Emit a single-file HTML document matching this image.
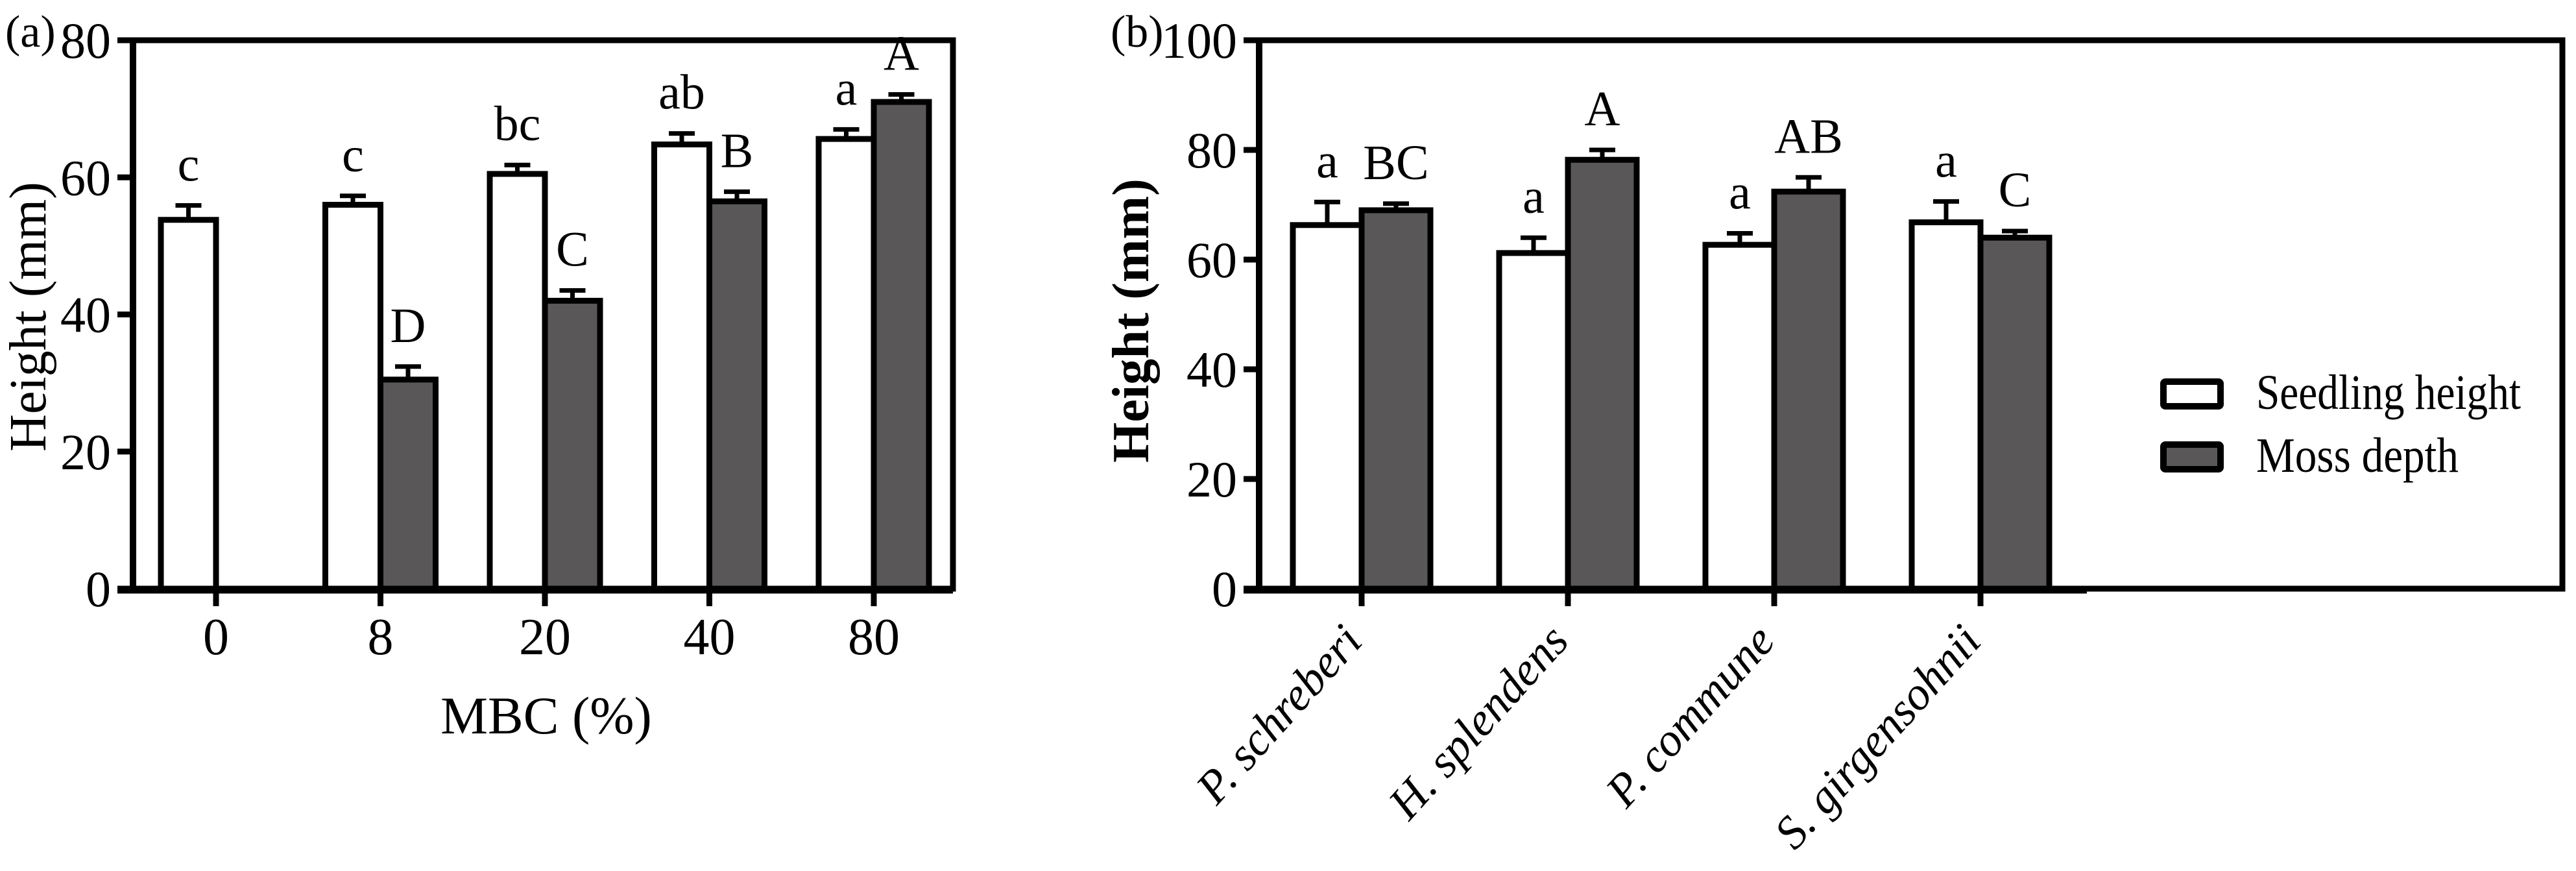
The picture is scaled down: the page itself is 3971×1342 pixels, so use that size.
<!DOCTYPE html>
<html><head><meta charset="utf-8"><style>
html,body{margin:0;padding:0;background:#fff;}
svg{display:block;font-family:"Liberation Serif",serif;}
</style></head><body>
<svg id="fig" width="3971" height="1342" viewBox="0 0 3971 1342" xmlns="http://www.w3.org/2000/svg">
<rect width="3971" height="1342" fill="#fff"/>
<g id="pa"></g>
<g id="pb"></g>
</svg>
<script>
// Panel (a) data
const catsA = ["0","8","20","40","80"];
const seedA = [53.8, 56, 60.5, 64.8, 65.6];
const seedErrA = [55.9, 57.3, 61.8, 66.4, 67.0];
const mossA = [null, 30.5, 42, 56.5, 71];
const mossErrA = [null, 32.4, 43.5, 57.9, 72.1];
const seedLblA = ["c","c","bc","ab","a"];
const mossLblA = ["","D","C","B","A"];
const ticksA = [0,20,40,60,80];
// Panel (b) data
const catsB = ["P. schreberi","H. splendens","P. commune","S. girgensohnii"];
const seedB = [66.3, 61.2, 62.7, 66.8];
const seedErrB = [70.5, 64.0, 64.8, 70.6];
const mossB = [69.0, 78.2, 72.4, 64.0];
const mossErrB = [70.2, 80.0, 75.0, 65.2];
const seedLblB = ["a","a","a","a"];
const mossLblB = ["BC","A","AB","C"];
const ticksB = [0,20,40,60,80,100];

const NS="http://www.w3.org/2000/svg";
function mk(parent,tag,attrs,text){const e=document.createElementNS(NS,tag);for(const k in attrs)e.setAttribute(k,attrs[k]);if(text!==undefined)e.textContent=text;parent.appendChild(e);return e;}
const DARK="#595758";

function drawPanel(g,o){
  const y=v=>o.y0-(v/o.ymax)*(o.y0-o.ytop);
  const x=i=>o.x0+o.step*i;
  const fr=mk(g,'path',{d:`M${o.axX} ${o.ytop} H${o.right} V${o.y0} H${o.axX}`,fill:'none',stroke:'#000','stroke-width':9});
  
  
  const ya=mk(g,'line',{x1:o.axX,x2:o.axX,y1:o.ytop,y2:o.y0,stroke:'#000','stroke-width':10});
  
  
  const xa=mk(g,'line',{x1:o.axX-24,x2:o.xend,y1:o.y0+2,y2:o.y0+2,stroke:'#000','stroke-width':11});
  
  
  o.ticks.forEach(t=>{
    const tk=mk(g,'line',{x1:o.axX-24,x2:o.axX,y1:y(t),y2:y(t),stroke:'#000','stroke-width':9});
    
    
    const tl=mk(g,'text',{x:o.axX-34,y:y(t)+27,'font-size':78,'text-anchor':'end'},String(t));
    
    
  });
  o.cats.forEach((c,i)=>{
    const cx=x(i);
    const tk=mk(g,'line',{x1:cx,x2:cx,y1:o.y0,y2:o.y0+27,stroke:'#000','stroke-width':9});
    
    
    const sv=o.seed[i];
    const sx=cx-o.bw/2;
    const e1=mk(g,'path',{d:`M${sx} ${y(sv)} V${y(o.seedErr[i])} M${sx-20} ${y(o.seedErr[i])} H${sx+20}`,stroke:'#000','stroke-width':7,fill:'none'});
    
    
    const b1=mk(g,'rect',{x:cx-o.bw,y:y(sv),width:o.bw,height:o.y0-y(sv),fill:'#fff',stroke:'#000','stroke-width':9});
    
    
    const l1=mk(g,'text',{x:sx,y:y(o.seedErr[i])-38,'font-size':76,'text-anchor':'middle'},o.seedLbl[i]);
    
    
    const mv=o.moss[i];
    if(mv!==null){
      const mx=cx+o.bw/2;
      const e2=mk(g,'path',{d:`M${mx} ${y(mv)} V${y(o.mossErr[i])} M${mx-20} ${y(o.mossErr[i])} H${mx+20}`,stroke:'#000','stroke-width':7,fill:'none'});
      
      
      const b2=mk(g,'rect',{x:cx,y:y(mv),width:o.bw,height:o.y0-y(mv),fill:DARK,stroke:'#000','stroke-width':9});
      
      
      const l2=mk(g,'text',{x:mx,y:y(o.mossErr[i])-38,'font-size':76,'text-anchor':'middle'},o.mossLbl[i]);
      
      
    }
    if(o.rot){
      const t=mk(g,'text',{x:cx+4,y:990,'font-size':72,'font-style':'italic','text-anchor':'end',transform:`rotate(-48 ${cx+4} 990)`},c);
      
      
    } else {
      const t=mk(g,'text',{x:cx,y:1008,'font-size':80,'text-anchor':'middle'},c);
      
      
    }
  });
}

const pa=document.getElementById('pa');
drawPanel(pa,{axX:205,ytop:62,y0:907,ymax:80,right:1469,xend:1469,x0:333,step:253.5,bw:85,cats:catsA,seed:seedA,seedErr:seedErrA,moss:mossA,mossErr:mossErrA,seedLbl:seedLblA,mossLbl:mossLblA,ticks:ticksA,rot:false});
const pb=document.getElementById('pb');
drawPanel(pb,{axX:1941,ytop:62,y0:907,ymax:100,right:3950,xend:3217,x0:2099,step:318,bw:106,cats:catsB,seed:seedB,seedErr:seedErrB,moss:mossB,mossErr:mossErrB,seedLbl:seedLblB,mossLbl:mossLblB,ticks:ticksB,rot:true});

let t;
t=mk(pa,'text',{x:8,y:72,'font-size':70},'(a)');


t=mk(pb,'text',{x:1712,y:72,'font-size':70},'(b)');


t=mk(pa,'text',{x:0,y:0,'font-size':80,'text-anchor':'middle',transform:'translate(70 488) rotate(-90)'},'Height  (mm)');


t=mk(pb,'text',{x:0,y:0,'font-size':80,'font-weight':'bold','text-anchor':'middle',transform:'translate(1770 494) rotate(-90)'},'Height  (mm)');


t=mk(pa,'text',{x:842,y:1130,'font-size':82,'text-anchor':'middle'},'MBC (%)');



const lg=mk(pb,'g',{});


let r=mk(lg,'rect',{x:3335,y:588,width:88,height:38,fill:'#fff',stroke:'#000','stroke-width':10,rx:3});


t=mk(lg,'text',{x:3478,y:630,'font-size':76,textLength:408,lengthAdjust:'spacingAndGlyphs'},'Seedling height');


r=mk(lg,'rect',{x:3335,y:685,width:88,height:38,fill:DARK,stroke:'#000','stroke-width':10,rx:3});


t=mk(lg,'text',{x:3478,y:727,'font-size':76,textLength:312,lengthAdjust:'spacingAndGlyphs'},'Moss depth');


</script>
</body></html>
